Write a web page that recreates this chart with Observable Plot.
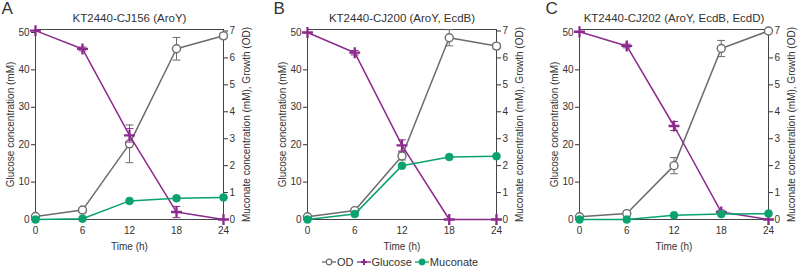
<!DOCTYPE html>
<html>
<head>
<meta charset="utf-8">
<script src="https://cdn.jsdelivr.net/npm/d3@7"></script>
<script src="https://cdn.jsdelivr.net/npm/@observablehq/plot@0.6"></script>
<style>
  body { margin: 0; background: #fff; font-family: "Liberation Sans", Arial, sans-serif; }
  #wrap { position: relative; width: 798px; height: 267px; overflow: hidden; }
  #row { display: flex; position: absolute; left: 0; top: 0; }
  #legend { position: absolute; top: 256px; left: 322px; display: flex; align-items: center; font-size: 11px; color: #333; white-space: nowrap; }
  #legend span.item { display: inline-flex; align-items: center; margin-right: 3px; }
  #legend svg { margin-right: 1px; }
</style>
</head>
<body>
<div id="wrap">
  <div id="row"></div>
  <div id="legend"></div>
</div>
<script>
// ---- data ----
const times = [0, 6, 12, 18, 24];
const panelLetters = ["A", "B", "C"];
const panelTitles = ["KT2440-CJ156 (AroY)", "KT2440-CJ200 (AroY, EcdB)", "KT2440-CJ202 (AroY, EcdB, EcdD)"];
const seriesNames = ["OD", "Glucose", "Muconate"];
const xLabel = "Time (h)";

const odA = [0.11, 0.35, 2.81, 6.34, 6.82];
const odErrA = [0.05, 0.08, 0.7, 0.42, 0.1];
const glucoseA = [50.5, 45.6, 22.5, 2.0, 0];
const glucoseErrA = [0.3, 0.5, 1.8, 1.5, 0];
const muconateA = [0, 0.03, 0.69, 0.79, 0.82];

const odB = [0.1, 0.33, 2.36, 6.75, 6.44];
const odErrB = [0.05, 0.08, 0.15, 0.3, 0.1];
const glucoseB = [50.0, 44.6, 19.8, 0, 0];
const glucoseErrB = [0.3, 0.6, 1.5, 0, 0];
const muconateB = [0, 0.2, 2.0, 2.32, 2.35];

const odC = [0.1, 0.22, 2.0, 6.35, 7.0];
const odErrC = [0.05, 0.05, 0.3, 0.3, 0.05];
const glucoseC = [50.2, 46.4, 25.0, 2.0, 0];
const glucoseErrC = [0.3, 0.5, 1.2, 0.5, 0];
const muconateC = [0, 0, 0.16, 0.2, 0.22];

const leftTicks = [0, 10, 20, 30, 40, 50];
const rightTicks = [0, 1, 2, 3, 4, 5, 6, 7];

// ---- styles ----
const GRAY = "#6b6b6b";
const PURPLE = "#8c2a8c";
const GREEN = "#0aa36e";
const K = 7.2; // right-axis unit in left-axis units
const FONT = "Liberation Sans, Arial, sans-serif";

const cap = { draw(ctx, size) { const w = Math.sqrt(size); ctx.moveTo(-w, 0); ctx.lineTo(w, 0); } };

const panels = [
  { od: odA, odErr: odErrA, glu: glucoseA, gluErr: glucoseErrA, muc: muconateA, width: 272, ml: 35, mr: 49 },
  { od: odB, odErr: odErrB, glu: glucoseB, gluErr: glucoseErrB, muc: muconateB, width: 272, ml: 35, mr: 48 },
  { od: odC, odErr: odErrC, glu: glucoseC, gluErr: glucoseErrC, muc: muconateC, width: 254, ml: 35, mr: 30 }
];

function makePanel(p, i) {
  const table = times.map((t, j) => ({
    t, od: p.od[j] * K, odLo: (p.od[j] - p.odErr[j]) * K, odHi: (p.od[j] + p.odErr[j]) * K,
    glu: p.glu[j], gluLo: Math.max(0, p.glu[j] - p.gluErr[j]), gluHi: p.glu[j] + p.gluErr[j],
    muc: p.muc[j] * K
  }));
  const odE = table.filter(d => d.odHi - d.odLo > 0.8);
  const gluE = table.filter(d => d.gluHi - d.gluLo > 0.8);
  return Plot.plot({
    width: p.width, height: 252,
    marginLeft: p.ml, marginRight: p.mr, marginTop: 29, marginBottom: 33,
    style: { fontFamily: FONT, fontSize: "10px", color: "#333", background: "transparent" },
    x: { domain: [0, 24] },
    y: { domain: [0, 50.8] },
    marks: [
      Plot.axisY({ anchor: "left", ticks: leftTicks, tickSize: 4, tickPadding: 2, label: "Glucose concentration (mM)", labelAnchor: "center", labelOffset: 29, labelArrow: "none", fontSize: 10 }),
      Plot.axisY({ anchor: "right", ticks: rightTicks.map(v => v * K), tickFormat: d => Math.round(d / K), tickSize: 4, tickPadding: 2, label: "Muconate concentration (mM), Growth (OD)", labelAnchor: "center", labelOffset: 26, labelArrow: "none", fontSize: 10 }),
      Plot.axisX({ ticks: times, tickSize: 0, tickPadding: 7, label: null, fontSize: 10 }),
      Plot.text([xLabel], { frameAnchor: "bottom", dy: 27, fontSize: 10, fill: "#333", lineAnchor: "middle" }),
      Plot.frame({ stroke: "#444", strokeWidth: 1 }),
      Plot.ruleY([0], { stroke: "#444", strokeWidth: 1.2 }),
      // OD
      Plot.ruleX(odE, { x: "t", y1: "odLo", y2: "odHi", stroke: GRAY, strokeWidth: 1 }),
      Plot.dot(odE, { x: "t", y: "odLo", symbol: cap, r: 2.2, stroke: GRAY, strokeWidth: 1 }),
      Plot.dot(odE, { x: "t", y: "odHi", symbol: cap, r: 2.2, stroke: GRAY, strokeWidth: 1 }),
      Plot.line(table, { x: "t", y: "od", stroke: GRAY, strokeWidth: 1.5 }),
      Plot.dot(table, { x: "t", y: "od", r: 4, fill: "white", stroke: GRAY, strokeWidth: 1.4 }),
      // Glucose
      Plot.ruleX(gluE, { x: "t", y1: "gluLo", y2: "gluHi", stroke: PURPLE, strokeWidth: 1 }),
      Plot.dot(gluE, { x: "t", y: "gluLo", symbol: cap, r: 2.2, stroke: PURPLE, strokeWidth: 1 }),
      Plot.dot(gluE, { x: "t", y: "gluHi", symbol: cap, r: 2.2, stroke: PURPLE, strokeWidth: 1 }),
      Plot.line(table, { x: "t", y: "glu", stroke: PURPLE, strokeWidth: 1.5 }),
      Plot.dot(table, { x: "t", y: "glu", symbol: "plus", r: 3.6, stroke: PURPLE, strokeWidth: 2.3 }),
      // Muconate
      Plot.line(table, { x: "t", y: "muc", stroke: GREEN, strokeWidth: 1.5 }),
      Plot.dot(table, { x: "t", y: "muc", r: 4, fill: GREEN, stroke: GREEN, strokeWidth: 0.5 }),
      // titles
      Plot.text([panelTitles[i]], { frameAnchor: "top", dy: -11, fontSize: 11.5, fill: "#333", lineAnchor: "middle" }),
      Plot.text([panelLetters[i]], { frameAnchor: "top-left", dx: -34, dy: -21, fontSize: 17, fill: "#333", textAnchor: "start", lineAnchor: "middle" })
    ]
  });
}

const row = document.getElementById("row");
panels.forEach((p, i) => row.appendChild(makePanel(p, i)));

// legend
const legend = document.getElementById("legend");
const legendStyles = [
  { stroke: GRAY, fill: "white", sym: "circle" },
  { stroke: PURPLE, fill: "none", sym: "plus" },
  { stroke: GREEN, fill: GREEN, sym: "circle" }
];
seriesNames.forEach((name, i) => {
  const s = legendStyles[i];
  const item = document.createElement("span");
  item.className = "item";
  let marker;
  if (s.sym === "circle") marker = `<circle cx="7" cy="6" r="2.8" fill="${s.fill}" stroke="${s.stroke}" stroke-width="1.2"/>`;
  else marker = `<path d="M7,3V9M4,6H10" stroke="${s.stroke}" stroke-width="2"/>`;
  item.innerHTML = `<svg width="14" height="12"><line x1="0" y1="6" x2="14" y2="6" stroke="${s.stroke}" stroke-width="1.3"/>${marker}</svg><span>${name}</span>`;
  legend.appendChild(item);
});
</script>
</body>
</html>
